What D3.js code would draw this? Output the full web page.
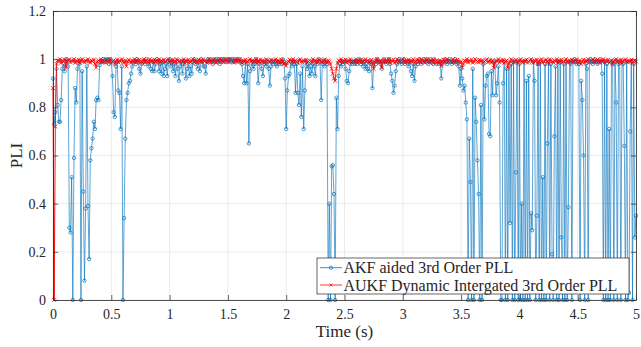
<!DOCTYPE html>
<html>
<head>
<meta charset="utf-8">
<script src="https://cdn.jsdelivr.net/npm/d3@7"></script>
<style>
  body { margin: 0; background: #fff; }
  svg { display: block; }
  text { font-family: "Liberation Serif", "Times New Roman", serif; fill: #262626; }
</style>
</head>
<body>
<svg></svg>
<script>
// sample step of both PLI traces (s)
var dt = 0.01;

// AKF aided 3rd Order PLL, one value every 10 ms
var akf = [
  0.92,0.73,0.78,0.96,0.81,0.74,0.74,0.83,0.96,0.98,
  0.95,1.00,0.99,0.97,0.30,0.28,0.51,0.00,0.59,0.88,
  0.82,0.96,0.98,0.99,0.00,0.95,0.45,0.08,0.38,0.97,
  0.39,0.17,0.58,0.63,0.67,0.74,0.71,0.83,0.84,0.83,
  0.975,0.99,0.99,1.00,0.99,1.00,0.99,1.00,0.98,1.00,
  0.99,0.93,0.78,0.76,0.97,0.99,0.87,0.86,0.71,0.97,
  0.00,0.34,0.67,0.83,0.86,0.90,0.91,0.94,0.97,0.99,
  0.99,0.98,1.00,0.99,0.96,0.94,0.98,0.99,0.99,0.98,
  1.00,0.99,0.97,0.99,0.96,0.95,0.99,0.95,0.98,1.00,
  0.99,0.95,0.98,0.94,0.99,0.93,0.96,0.98,0.93,0.99,
  1.00,0.97,0.99,0.95,0.98,0.93,0.99,0.96,0.91,0.97,
  0.99,0.94,0.98,0.99,0.92,0.96,0.99,0.93,0.97,0.94,
  0.99,1.00,0.98,0.99,0.96,0.99,0.95,1.00,0.99,0.97,
  0.97,0.94,0.99,1.00,0.99,1.00,0.99,0.98,1.00,0.99,
  1.00,0.99,1.00,0.98,1.00,0.99,1.00,1.00,0.99,1.00,
  0.99,1.00,1.00,0.99,1.00,0.99,1.00,0.99,1.00,0.99,
  1.00,0.99,0.98,0.93,0.90,0.99,0.90,0.98,0.65,0.95,
  0.97,0.99,0.96,0.98,1.00,0.99,0.90,0.98,0.99,0.96,
  0.93,0.98,0.99,0.97,0.99,0.96,0.89,0.97,0.99,0.98,
  0.99,0.98,0.97,0.99,0.98,0.99,0.98,1.00,0.99,0.92,
  0.71,0.87,0.93,0.94,0.99,0.97,0.99,0.98,0.86,0.98,
  0.86,0.81,0.94,0.76,0.97,0.71,0.87,0.99,0.96,0.98,
  0.93,0.97,0.94,0.98,0.97,0.93,0.99,0.98,1.00,0.99,
  0.83,0.98,0.99,0.97,0.99,0.98,0.00,0.40,0.00,0.555,
  0.56,0.44,0.00,0.84,0.71,0.93,0.98,0.97,0.99,0.98,
  0.99,0.96,0.91,0.90,0.95,0.98,0.99,0.98,0.99,0.98,
  0.99,0.98,0.99,1.00,0.98,0.99,0.97,0.99,0.96,0.98,
  0.96,0.95,0.99,0.98,0.88,0.97,0.99,0.98,1.00,0.99,
  0.99,0.98,0.96,0.99,1.00,0.99,0.98,0.99,1.00,0.98,
  0.94,0.91,0.86,0.89,0.95,0.98,0.99,1.00,0.99,0.98,
  0.99,1.00,0.98,0.99,0.99,0.97,0.99,0.95,0.93,0.98,
  0.91,0.97,0.99,0.98,1.00,0.99,0.98,0.99,1.00,0.99,
  0.99,1.00,0.98,0.99,1.00,0.99,0.98,1.00,0.99,0.98,
  0.99,0.98,0.99,0.92,0.98,0.99,1.00,0.99,0.98,0.99,
  1.00,0.99,0.98,0.99,0.99,1.00,0.98,0.99,0.97,0.89,
  0.96,0.92,0.87,0.89,0.82,0.75,0.00,0.67,0.49,0.00,
  0.96,0.00,0.84,0.74,0.58,0.44,0.00,0.81,0.00,0.98,
  0.75,0.89,0.93,0.94,0.69,0.68,0.95,0.85,0.99,0.97,
  0.85,0.90,0.97,0.82,0.00,0.00,0.90,0.99,0.00,0.96,
  0.00,0.97,0.32,0.98,0.00,0.99,0.00,0.53,0.99,0.00,
  0.98,0.00,0.40,0.00,0.99,0.00,0.91,0.00,0.93,0.00,
  0.36,0.29,0.99,0.91,0.00,0.35,0.98,0.00,0.99,0.00,
  0.51,0.00,0.98,0.00,0.65,0.99,0.00,0.98,0.19,0.00,
  0.68,0.97,0.00,0.99,0.00,0.99,0.26,0.00,0.98,0.00,
  0.99,0.00,0.385,0.99,0.98,0.00,0.99,1.00,0.99,0.98,
  0.99,0.98,0.00,0.91,0.83,0.60,0.00,0.98,0.96,0.00,
  0.99,1.00,0.99,0.98,0.99,1.00,0.99,0.98,0.99,1.00,
  0.99,0.94,0.00,0.99,0.00,0.98,0.00,0.71,0.00,0.99,
  0.98,0.00,0.99,0.82,0.00,0.98,0.99,0.00,0.99,0.98,
  0.64,0.00,0.99,0.00,0.03,0.70,0.99,0.00,0.98,0.26,
  0.35
];

// AUKF Dynamic Intergated 3rd Order PLL, same time base
var aukf = [
  0.88,0,0.72,0.98,0.995,0.99,1,0.985,0.995,0.99,
  0.998,0.965,0.99,0.995,1,0.987,0.995,0.99,1,0.985,
  0.995,0.99,0.998,0.985,0.995,1,0.99,0.987,0.995,0.99,
  1,0.99,0.985,0.995,0.99,0.998,0.98,0.965,0.99,0.995,
  0.99,1,0.987,0.995,0.99,0.985,0.998,0.99,0.995,1,
  0.985,0.99,0.995,0.98,0.99,0.998,0.987,0.995,0.99,1,
  0.99,0.985,0.995,0.97,0.99,0.998,0.99,0.985,0.995,0.99,
  1,0.987,0.995,0.99,0.998,0.985,0.99,0.995,1,0.99,
  0.995,0.99,0.985,1,0.99,0.995,0.987,0.998,0.99,0.995,
  0.99,1,0.985,0.995,0.99,0.998,0.987,0.99,0.995,1,
  0.987,0.995,0.99,0.998,0.985,0.99,1,0.995,0.99,0.987,
  0.995,0.99,1,0.985,0.995,0.99,0.998,0.99,0.987,0.995,
  1,0.99,0.995,0.985,0.99,0.998,0.99,0.995,0.987,1,
  0.99,0.995,0.985,0.99,1,0.987,0.995,0.99,0.998,0.99,
  0.985,0.995,0.99,1,0.99,0.995,0.987,0.99,0.998,0.995,
  0.99,0.987,1,0.995,0.99,0.985,0.995,0.998,0.99,0.995,
  1,0.99,0.985,0.995,0.99,0.998,0.987,0.99,0.995,1,
  0.99,0.995,0.987,0.99,1,0.985,0.995,0.99,0.998,0.99,
  0.995,0.985,0.99,1,0.995,0.99,0.987,0.998,0.99,0.995,
  0.99,1,0.987,0.995,0.99,0.985,0.998,0.99,0.98,0.985,
  0.972,0.985,0.99,0.998,0.995,0.99,1,0.987,0.995,0.99,
  0.985,0.995,1,0.99,0.987,0.995,0.99,0.998,0.985,0.99,
  0.995,0.99,0.987,1,0.99,0.995,0.985,0.99,0.998,0.995,
  0.99,0.987,0.995,1,0.99,0.985,0.995,0.99,0.98,0.96,
  0.94,0.92,0.91,0.96,0.985,0.995,0.99,1,0.987,0.995,
  0.99,0.998,0.985,0.995,0.99,1,0.987,0.99,0.995,0.99,
  1,0.985,0.995,0.99,0.998,0.987,0.99,0.995,1,0.99,
  0.995,0.987,0.99,0.998,0.985,0.96,0.99,0.995,1,0.99,
  0.985,0.995,0.965,0.99,0.998,0.987,0.995,0.99,1,0.985,
  0.995,0.99,0.998,0.985,0.99,1,0.995,0.987,0.99,0.995,
  1,0.99,0.985,0.995,0.99,0.998,0.987,0.995,0.99,1,
  0.985,0.99,0.995,0.998,0.99,0.987,1,0.995,0.99,0.985,
  0.995,1,0.99,0.987,0.995,0.99,0.998,0.985,0.99,0.995,
  0.99,0.985,0.995,0.972,0.99,0.998,0.987,0.995,1,0.99,
  0.995,0.99,0.987,1,0.99,0.985,0.995,0.998,0.99,0.985,
  0.99,0.965,0.98,0.995,0.99,1,0.987,0.995,0.99,0.998,
  0.985,0.99,1,0.995,0.99,0.987,0.998,0.99,0.995,0.985,
  0.99,0.995,1,0.987,0.99,0.998,0.985,0.995,0.965,0.985,
  0.995,0.99,1,0.987,0.995,0.99,0.998,0.985,0.99,0.995,
  0.965,0.985,0.99,1,0.995,0.987,0.99,0.998,0.99,0.985,
  0.995,1,0.99,0.987,0.995,0.99,0.998,0.985,0.99,0.995,
  1,0.99,0.985,0.995,0.99,0.998,0.98,0.99,0.995,1,
  0.985,0.99,0.995,0.998,0.99,0.98,1,0.995,0.99,0.987,
  0.995,0.99,1,0.985,0.995,0.99,0.998,0.987,0.99,0.995,
  1,0.99,0.985,0.995,0.99,0.998,0.987,0.99,0.995,1,
  0.99,0.985,0.995,0.98,0.99,0.998,0.987,0.995,0.99,1,
  0.985,0.99,0.995,1,0.99,0.987,0.995,0.998,0.99,0.985,
  0.995,0.99,1,0.987,0.995,0.99,0.998,0.985,0.99,0.995,
  0.98,0.99,0.995,1,0.987,0.995,0.99,0.998,0.985,0.99,
  0.995,1,0.99,0.987,0.995,0.99,0.998,0.985,0.99,0.995,
  0.99
];

var xTicks = [0, 0.5, 1, 1.5, 2, 2.5, 3, 3.5, 4, 4.5, 5];
var yTicks = [0, 0.2, 0.4, 0.6, 0.8, 1, 1.2];
var seriesNames = ["AKF aided 3rd Order PLL", "AUKF Dynamic Intergated 3rd Order PLL"];

var width = 641,
    height = 347,
    margin = {top: 11, right: 5, bottom: 47, left: 53};

var blue = "#0072BD",
    red = "#FF0000",
    axisColor = "#262626";

var svg = d3.select("svg")
    .attr("width", width)
    .attr("height", height);

var x = d3.scaleLinear().domain([0, 5]).range([margin.left, width - margin.right]);
var y = d3.scaleLinear().domain([0, 1.2]).range([height - margin.bottom, margin.top]);

// grid
var grid = svg.append("g").attr("class", "grid");
grid.selectAll(".gx").data(xTicks).enter().append("line")
    .attr("x1", function(d) { return x(d); })
    .attr("x2", function(d) { return x(d); })
    .attr("y1", y(0)).attr("y2", y(1.2))
    .attr("stroke", "#e3e3e3").attr("stroke-width", 0.7);
grid.selectAll(".gy").data(yTicks).enter().append("line")
    .attr("y1", function(d) { return y(d); })
    .attr("y2", function(d) { return y(d); })
    .attr("x1", x(0)).attr("x2", x(5))
    .attr("stroke", "#e3e3e3").attr("stroke-width", 0.7);

var line = d3.line()
    .x(function(d, i) { return x(i * dt); })
    .y(function(d) { return y(d); });

// AKF trace: thin line with open circles
svg.append("path")
    .datum(akf)
    .attr("d", line)
    .attr("fill", "none")
    .attr("stroke", blue)
    .attr("stroke-opacity", 0.8)
    .attr("stroke-width", 0.8);

svg.append("g").selectAll("circle")
    .data(akf)
  .enter().append("circle")
    .attr("cx", function(d, i) { return x(i * dt); })
    .attr("cy", function(d) { return y(d); })
    .attr("r", 1.7)
    .attr("fill", "none")
    .attr("stroke", blue)
    .attr("stroke-width", 0.7);

// AUKF trace: line with x markers, drawn on top
svg.append("path")
    .datum(aukf)
    .attr("d", line)
    .attr("fill", "none")
    .attr("stroke", red)
    .attr("stroke-width", 0.9);

var cross = "M-1.9,-1.9L1.9,1.9M-1.9,1.9L1.9,-1.9";
svg.append("g").selectAll("path")
    .data(aukf)
  .enter().append("path")
    .attr("d", cross)
    .attr("transform", function(d, i) { return "translate(" + x(i * dt) + "," + y(d) + ")"; })
    .attr("stroke", red)
    .attr("stroke-width", 0.8);

// axes (box with inward ticks on all four sides)
function styleAxis(g) {
  g.selectAll(".domain").attr("stroke", axisColor).attr("stroke-width", 0.8);
  g.selectAll(".tick line").attr("stroke", axisColor).attr("stroke-width", 0.7);
  g.selectAll(".tick text").attr("fill", axisColor)
    .style("font-family", "'Liberation Serif', serif").style("font-size", "14px");
}

svg.append("g")
    .attr("transform", "translate(0," + y(0) + ")")
    .call(d3.axisBottom(x).tickValues(xTicks).tickSizeInner(-5).tickSizeOuter(0).tickPadding(9).tickFormat(d3.format("")))
    .call(styleAxis);

svg.append("g")
    .attr("transform", "translate(0," + y(1.2) + ")")
    .call(d3.axisTop(x).tickValues(xTicks).tickSizeInner(-5).tickSizeOuter(0).tickFormat(""))
    .call(styleAxis);

svg.append("g")
    .attr("transform", "translate(" + x(0) + ",0)")
    .call(d3.axisLeft(y).tickValues(yTicks).tickSizeInner(-5).tickSizeOuter(0).tickPadding(7).tickFormat(d3.format("")))
    .call(styleAxis);

svg.append("g")
    .attr("transform", "translate(" + x(5) + ",0)")
    .call(d3.axisRight(y).tickValues(yTicks).tickSizeInner(-5).tickSizeOuter(0).tickFormat(""))
    .call(styleAxis);

svg.selectAll(".domain").attr("fill", "none");

// axis titles
svg.append("text")
    .attr("x", (x(0) + x(5)) / 2)
    .attr("y", 337)
    .attr("text-anchor", "middle")
    .style("font-size", "17px")
    .text("Time (s)");

svg.append("text")
    .attr("transform", "translate(22," + ((y(0) + y(1.2)) / 2) + ") rotate(-90)")
    .attr("text-anchor", "middle")
    .style("font-size", "17px")
    .text("PLI");

// legend
var legend = svg.append("g").attr("transform", "translate(317,258)");
var box = legend.append("rect")
    .attr("width", 312).attr("height", 36)
    .attr("fill", "#fff")
    .attr("stroke", axisColor).attr("stroke-width", 0.7);

var rows = [9.7, 27];
var labels = legend.selectAll(".entry")
    .data(seriesNames)
  .enter().append("g")
    .attr("class", "entry")
    .attr("transform", function(d, i) { return "translate(0," + rows[i] + ")"; });

labels.append("line")
    .attr("x1", 3).attr("x2", 25)
    .attr("stroke", function(d, i) { return i === 0 ? blue : red; })
    .attr("stroke-width", 0.8);

labels.each(function(d, i) {
  var g = d3.select(this);
  if (i === 0) {
    g.append("circle").attr("cx", 14).attr("cy", 0).attr("r", 1.7)
      .attr("fill", "none").attr("stroke", blue).attr("stroke-width", 0.7);
  } else {
    g.append("path").attr("d", "M-1.5,-1.5L1.5,1.5M-1.5,1.5L1.5,-1.5").attr("transform", "translate(14,0)")
      .attr("stroke", red).attr("stroke-width", 0.7);
  }
});

labels.append("text")
    .attr("x", 26.5)
    .attr("dy", "0.35em")
    .style("font-size", "16px")
    .text(function(d) { return d; });

// fit the box to the longer label
var maxLen = d3.max(labels.selectAll("text").nodes(), function(n) { return n.getComputedTextLength(); });
box.attr("width", Math.max(312, 26.5 + maxLen + 3));
</script>
</body>
</html>
